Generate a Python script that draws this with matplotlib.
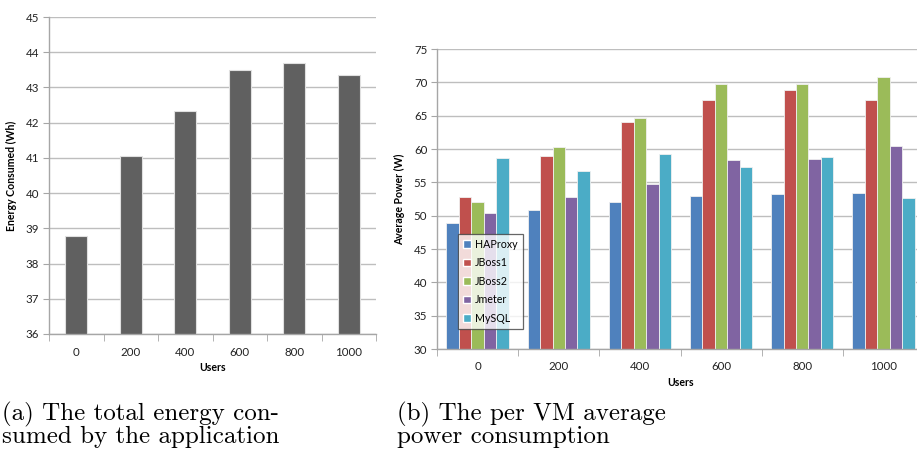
import matplotlib
matplotlib.use("Agg")
import matplotlib.pyplot as plt
import numpy as np
from matplotlib.patches import Patch

plt.rcParams['font.family'] = ['Lato', 'DejaVu Sans']

users = ["0", "200", "400", "600", "800", "1000"]
energy_wh = [38.78, 41.04, 42.34, 43.49, 43.70, 43.36]

series_names = ["HAProxy", "JBoss1", "JBoss2", "Jmeter", "MySQL"]
haproxy = [48.85, 50.9, 52.05, 52.9, 53.3, 53.35]
jboss1 = [52.85, 58.95, 64.0, 67.35, 68.9, 67.35]
jboss2 = [52.0, 60.25, 64.6, 69.75, 69.75, 70.75]
jmeter = [50.35, 52.8, 54.8, 58.3, 58.55, 60.4]
mysql = [58.6, 56.7, 59.25, 57.35, 58.85, 52.6]
series_colors = ["#4F81BD", "#C0504D", "#9BBB59", "#8064A2", "#4BACC6"]

caption_a = ["(a) The total energy con-", "sumed by the application"]
caption_b = ["(b) The per VM average", "power consumption"]

W, H = 917, 454
fig = plt.figure(figsize=(W / 100, H / 100), dpi=100)

grid_c = "#BEBEBE"
axis_c = "#A6A6A6"
tick_fs = 8.3


def style(ax):
    for s in ["top", "right"]:
        ax.spines[s].set_visible(False)
    for s in ["left", "bottom"]:
        ax.spines[s].set_color(axis_c)
        ax.spines[s].set_linewidth(1.0)
    ax.yaxis.grid(True, color=grid_c, linewidth=1.0)
    ax.set_axisbelow(True)
    ax.tick_params(axis="y", length=4, color=axis_c, labelsize=tick_fs, pad=3, labelcolor="#222222")
    ax.tick_params(axis="x", which="major", length=0, labelsize=tick_fs, pad=9, labelcolor="#222222")
    ax.tick_params(axis="x", which="minor", length=5, color=axis_c)


# Left chart
ax1 = fig.add_axes([49 / W, 1 - 334 / H, (376 - 49) / W, (334 - 17) / H])
x = np.arange(len(users))
ax1.bar(x, energy_wh, width=0.4, color="#606060", edgecolor="#E0E0E0", linewidth=0.8)
ax1.set_ylim(36, 45)
ax1.set_yticks(np.arange(36, 46, 1))
ax1.set_xlim(-0.5, len(users) - 0.5)
ax1.set_xticks(x)
ax1.set_xticklabels(users)
ax1.set_xticks(np.arange(-0.5, len(users)), minor=True)
style(ax1)
ax1.set_ylabel("Energy Consumed (Wh)", fontsize=7.6, fontweight="bold", labelpad=6)
ax1.set_xlabel("Users", fontsize=7.6, fontweight="bold", labelpad=3)

# Right chart
ax2 = fig.add_axes([437 / W, 1 - 349 / H, (924 - 437) / W, (349 - 49) / H])
all_series = [haproxy, jboss1, jboss2, jmeter, mysql]
bw = 1 / 6.5
for i, (name, vals, c) in enumerate(zip(series_names, all_series, series_colors)):
    ax2.bar(x + (i - 2) * bw, vals, width=bw, color=c, edgecolor="#F0F0F0", linewidth=0.6, label=name)
ax2.set_ylim(30, 75)
ax2.set_yticks(np.arange(30, 76, 5))
ax2.set_xlim(-0.5, len(users) - 0.5)
ax2.set_xticks(x)
ax2.set_xticklabels(users)
ax2.set_xticks(np.arange(-0.5, len(users)), minor=True)
style(ax2)
ax2.set_ylabel("Average Power (W)", fontsize=7.6, fontweight="bold", labelpad=6)
ax2.set_xlabel("Users", fontsize=7.6, fontweight="bold", labelpad=3)

handles = [Patch(facecolor=c, edgecolor="white", label=n) for n, c in zip(series_names, series_colors)]
leg = ax2.legend(handles=handles, loc="upper left",
                 bbox_to_anchor=((458 - 437) / (924 - 437), 1 - (234 - 49) / (349 - 49)),
                 fontsize=7.7, frameon=True, fancybox=False, handlelength=0.75, handleheight=0.75,
                 handletextpad=0.4, labelspacing=0.7, borderpad=0.45, borderaxespad=0)
leg.get_frame().set_edgecolor("#404040")
leg.get_frame().set_linewidth(0.9)

# Captions
cap_kw = dict(fontsize=18, family="cmr10", va="baseline", ha="left")
for k, (la, lb) in enumerate(zip(caption_a, caption_b)):
    yb = 1 - (420 + 23 * k) / H
    fig.text(2 / W, yb, la, **cap_kw)
    fig.text(397 / W, yb, lb, **cap_kw)

fig.savefig("out.png", dpi=100)
